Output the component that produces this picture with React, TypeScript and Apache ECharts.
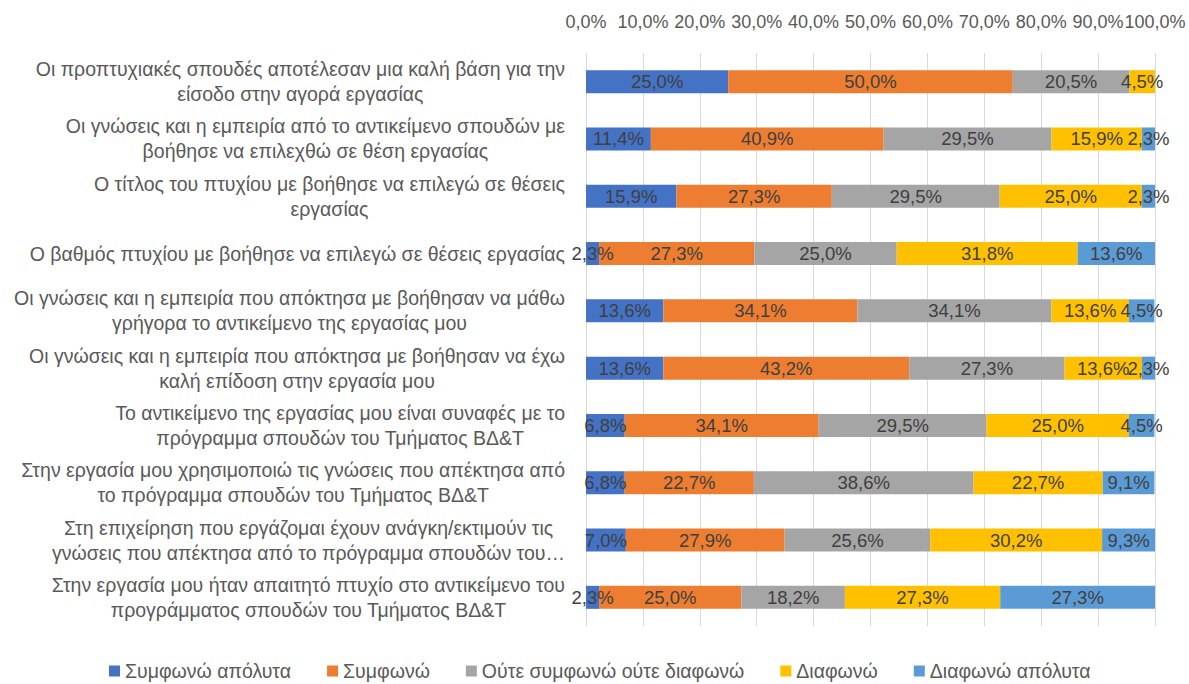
import React, { useEffect, useRef } from "react";
import * as echarts from "echarts";

const categories: string[][] = [
  ["Οι προπτυχιακές σπουδές αποτέλεσαν μια καλή βάση για την", "είσοδο στην αγορά εργασίας"],
  ["Οι γνώσεις και η εμπειρία από το αντικείμενο σπουδών με", "βοήθησε να επιλεχθώ σε θέση εργασίας"],
  ["Ο τίτλος του πτυχίου με βοήθησε να επιλεγώ σε θέσεις", "εργασίας"],
  ["Ο βαθμός πτυχίου με βοήθησε να επιλεγώ σε θέσεις εργασίας"],
  ["Οι γνώσεις και η εμπειρία που απόκτησα με βοήθησαν να μάθω", "γρήγορα το αντικείμενο της εργασίας μου"],
  ["Οι γνώσεις και η εμπειρία που απόκτησα με βοήθησαν να έχω", "καλή επίδοση στην εργασία μου"],
  ["Το αντικείμενο της εργασίας μου είναι συναφές με το", "πρόγραμμα σπουδών του Τμήματος ΒΔ&Τ"],
  ["Στην εργασία μου χρησιμοποιώ τις γνώσεις που απέκτησα από", "το πρόγραμμα σπουδών του Τμήματος ΒΔ&Τ"],
  ["Στη επιχείρηση που εργάζομαι έχουν ανάγκη/εκτιμούν τις", "γνώσεις που απέκτησα από το πρόγραμμα σπουδών του…"],
  ["Στην εργασία μου ήταν απαιτητό πτυχίο στο αντικείμενο του", "προγράμματος σπουδών του Τμήματος ΒΔ&Τ"],
];

const seriesNames = [
  "Συμφωνώ απόλυτα",
  "Συμφωνώ",
  "Ούτε συμφωνώ ούτε διαφωνώ",
  "Διαφωνώ",
  "Διαφωνώ απόλυτα",
];

const agreeFully: number[] = [25.0, 11.4, 15.9, 2.3, 13.6, 13.6, 6.8, 6.8, 7.0, 2.3];
const agree: number[] = [50.0, 40.9, 27.3, 27.3, 34.1, 43.2, 34.1, 22.7, 27.9, 25.0];
const neutral: number[] = [20.5, 29.5, 29.5, 25.0, 34.1, 27.3, 29.5, 38.6, 25.6, 18.2];
const disagree: number[] = [4.5, 15.9, 25.0, 31.8, 13.6, 13.6, 25.0, 22.7, 30.2, 27.3];
const disagreeFully: (number | null)[] = [null, 2.3, 2.3, 13.6, 4.5, 2.3, 4.5, 9.1, 9.3, 27.3];

const colors = ["#4472C4", "#ED7D31", "#A5A5A5", "#FFC000", "#5B9BD5"];
const legendTextWidths = [167, 85, 265, 87, 169];
const FONT = "Liberation Sans";
const FS = 18.5;
const AX_FS = 18;
const CAT_FS = 19.5;

export default function App() {
  const ref = useRef<HTMLDivElement>(null);
  useEffect(() => {
    if (!ref.current) return;
    const chart = echarts.init(ref.current, null, { renderer: "svg" });
    const data = [agreeFully, agree, neutral, disagree, disagreeFully];
    chart.setOption({
      animation: false,
      color: colors,
      textStyle: { fontFamily: FONT },
      grid: { left: 586, right: 34, top: 53, bottom: 58, containLabel: false },
      xAxis: {
        type: "value",
        position: "top",
        min: 0,
        max: 100,
        interval: 10,
        axisLine: { show: false },
        axisTick: { show: false },
        splitLine: { show: true, lineStyle: { color: "#D9D9D9", width: 1 } },
        axisLabel: {
          color: "#595959",
          fontSize: AX_FS,
          fontFamily: FONT,
          margin: 22,
          showMinLabel: true,
          showMaxLabel: true,
          hideOverlap: false,
          formatter: (v: number) => v.toFixed(1).replace(".", ",") + "%",
        },
      },
      yAxis: {
        type: "category",
        inverse: true,
        data: categories.map((c) => c.join("\n")),
        axisLine: { show: false },
        axisTick: { show: false },
        axisLabel: {
          color: "#595959",
          fontSize: CAT_FS,
          fontFamily: FONT,
          margin: 21,
          lineHeight: 25,
          formatter: (v: string) =>
            v
              .split("\n")
              .map((l) => "{c|" + l + "}")
              .join("\n"),
          rich: {
            c: { align: "center", fontSize: CAT_FS, lineHeight: 25, color: "#595959", fontFamily: FONT },
          },
        },
      },
      legend: {
        bottom: -2,
        left: 104,
        padding: 5,
        itemWidth: 11,
        itemHeight: 11,
        itemGap: 36,
        icon: "rect",
        textStyle: { color: "#595959", fontSize: 19.5, fontFamily: FONT },
        data: seriesNames.map((name, i) => ({
          name,
          textStyle: { width: legendTextWidths[i], color: "#595959", fontSize: 19.5, fontFamily: FONT },
        })),
      },
      series: seriesNames.map((name, i) => ({
        name,
        type: "bar",
        stack: "total",
        barWidth: 23,
        data: data[i],
        itemStyle: { color: colors[i] },
        label: {
          show: true,
          position: "inside",
          color: "#404040",
          fontSize: FS,
          fontFamily: FONT,
          formatter: (p: any) =>
            p.value == null || p.value === 0 ? "" : Number(p.value).toFixed(1).replace(".", ",") + "%",
        },
      })),
    });
    return () => chart.dispose();
  }, []);
  return (
    <div
      ref={ref}
      style={{ position: "fixed", top: 0, left: 0, width: 1189, height: 684, background: "#fff" }}
    />
  );
}
